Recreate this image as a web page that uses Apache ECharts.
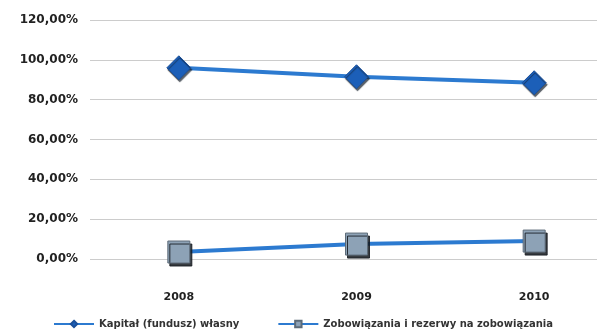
<!DOCTYPE html>
<html>
<head>
<meta charset="utf-8">
<script src="https://cdn.jsdelivr.net/npm/echarts@6/dist/echarts.min.js"></script>
<style>html,body{margin:0;padding:0;background:#fff;}#c{width:597px;height:336px;}</style>
</head>
<body>
<div id="c"></div>
<script>
var categories = ['2008', '2009', '2010'];
var kapital = [96, 91.5, 88.5];
var zobowiazania = [3.5, 7.5, 9];
var yTicks = [0, 20, 40, 60, 80, 100, 120];
var seriesNames = ['Kapitał (fundusz) własny', 'Zobowiązania i rezerwy na zobowiązania'];

var chart = echarts.init(document.getElementById('c'), null, {renderer: 'canvas'});
chart.setOption({
  animation: false,
  backgroundColor: '#ffffff',
  grid: {left: 90, width: 533, top: 20, bottom: 77, outerBoundsMode: 'none', containLabel: false},
  xAxis: {
    type: 'category',
    data: categories,
    boundaryGap: true,
    axisLine: {show: false},
    axisTick: {show: false},
    axisLabel: {margin: 33, fontFamily: 'DejaVu Sans', fontSize: 11, fontWeight: 'bold', color: '#222'}
  },
  yAxis: {
    type: 'value',
    min: yTicks[0],
    max: yTicks[yTicks.length - 1],
    interval: 20,
    axisLine: {show: false},
    axisTick: {show: false},
    splitLine: {lineStyle: {color: '#cccccc', width: 1}},
    axisLabel: {
      margin: 12,
      fontFamily: 'DejaVu Sans', fontSize: 12, fontWeight: 'bold', color: '#222',
      formatter: function (v) { return v.toFixed(2).replace('.', ',') + '%'; }
    }
  },
  legend: {
    bottom: 2,
    left: 48,
    itemGap: 38,
    itemWidth: 40,
    itemHeight: 8,
    textStyle: {fontFamily: 'DejaVu Sans', fontSize: 10, fontWeight: 'bold', color: '#333'},
    data: seriesNames
  },
  series: [
    {
      name: seriesNames[0],
      type: 'line',
      data: kapital,
      symbol: 'diamond',
      symbolSize: 24,
      lineStyle: {color: '#2c7ad0', width: 4},
      itemStyle: {color: '#1c5fb8', borderColor: '#1a4f9a', borderWidth: 1,
        shadowColor: 'rgba(20,30,40,0.7)', shadowOffsetX: 1, shadowOffsetY: 2, shadowBlur: 1}
    },
    {
      name: seriesNames[1],
      type: 'line',
      data: zobowiazania,
      symbol: 'rect',
      symbolSize: 22,
      lineStyle: {color: '#2c7ad0', width: 4},
      itemStyle: {color: '#8da2b6', borderColor: '#5d6b78', borderWidth: 1,
        shadowColor: 'rgba(20,25,30,0.85)', shadowOffsetX: 2, shadowOffsetY: 3, shadowBlur: 0}
    }
  ]
});
</script>
</body>
</html>
